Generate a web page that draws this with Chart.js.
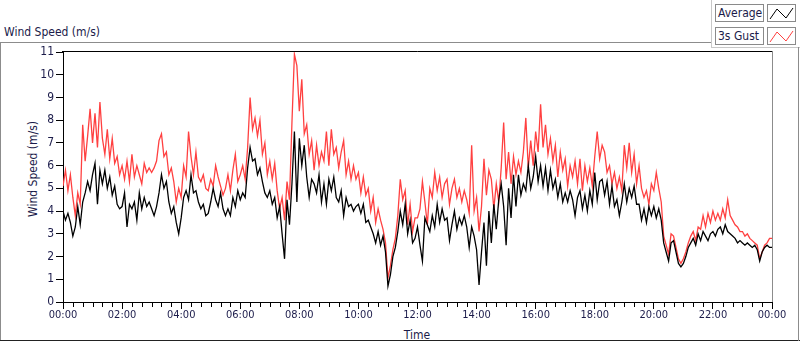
<!DOCTYPE html>
<html>
<head>
<meta charset="utf-8">
<script src="https://cdn.jsdelivr.net/npm/chart.js@4.4.1/dist/chart.umd.min.js"></script>
<style>
    html, body { margin: 0; padding: 0; background: #fff; }
    body {
        width: 800px; height: 342px; position: relative; overflow: hidden;
        font-family: "DejaVu Sans Condensed", "DejaVu Sans", sans-serif;
        color: #1b1b4a;
    }
    .line { position: absolute; }
    #title { position: absolute; left: 4px; top: 25px; font-size: 12px; }
    .lg-label {
        position: absolute; left: 715px; width: 45px; height: 16px;
        border: 1px solid #8a8a8a; background: #fff;
        font-size: 12px; line-height: 16px; padding-left: 2px; white-space: nowrap;
    }
    .lg-swatch {
        position: absolute; left: 767px; width: 27px; height: 16px;
        border: 1px solid #8a8a8a; background: #fff;
    }
    #ytitle {
        position: absolute; left: 33px; top: 169px; font-size: 12px;
        transform: translate(-50%, -50%) rotate(-90deg); white-space: nowrap;
    }
    #xtitle {
        position: absolute; left: 417px; top: 335px; font-size: 12px;
        transform: translate(-50%, -50%);
    }
    #chart { position: absolute; left: 0; top: 0; }
</style>
</head>
<body>
<!-- outer panel frame -->
<div class="line" style="left:0;top:42px;width:711px;height:1px;background:#8c8c8c"></div>
<div class="line" style="left:0;top:42px;width:1px;height:299px;background:#8c8c8c"></div>
<div class="line" style="left:0;top:340px;width:800px;height:1px;background:#222"></div>
<div class="line" style="left:711px;top:0;width:1px;height:48px;background:#c8c8c8"></div>
<div class="line" style="left:711px;top:47px;width:89px;height:1px;background:#c8c8c8"></div>
<div class="line" style="left:798px;top:47px;width:1px;height:294px;background:#8c8c8c"></div>

<div id="title">Wind Speed (m/s)</div>

<div class="lg-label" style="top:4px">Average</div>
<div class="lg-swatch" style="top:4px">
    <svg width="27" height="16"><polyline points="2,14 9,4 18,13 25,3" fill="none" stroke="#000" stroke-width="1"/></svg>
</div>
<div class="lg-label" style="top:27px">3s Gust</div>
<div class="lg-swatch" style="top:27px">
    <svg width="27" height="16"><polyline points="2,14 9,4 18,13 25,3" fill="none" stroke="#ff4040" stroke-width="1"/></svg>
</div>

<div id="ytitle">Wind Speed (m/s)</div>
<div id="xtitle">Time</div>

<canvas id="chart" width="800" height="342"></canvas>

<script>
// samples every 5 minutes, 00:00 .. 24:00 (one row per hour)
const sampleStepMin = 5;

const averageSpeed = [
    4.0, 3.6, 3.9, 3.5, 2.9, 3.3, 4.2, 3.4, 4.4, 4.8, 5.3, 4.9,
    5.6, 6.1, 4.3, 5.8, 5.2, 5.8, 5.0, 5.5, 4.7, 5.1, 4.3, 4.1,
    4.2, 4.8, 3.3, 4.3, 4.1, 4.4, 3.6, 4.8, 4.1, 4.6, 4.2, 4.4,
    4.1, 3.8, 4.2, 4.8, 5.6, 5.0, 5.3, 4.4, 3.9, 4.2, 3.5, 3.0,
    3.7, 4.6, 4.9, 4.5, 5.6, 4.8, 4.9, 4.4, 4.1, 4.3, 3.8, 3.9,
    4.4, 5.0, 4.5, 4.2, 4.8, 4.1, 3.8, 4.1, 3.8, 4.6, 4.2, 4.9,
    4.5, 4.8, 4.6, 5.9, 6.8, 6.2, 6.3, 5.6, 5.9, 5.3, 4.8, 4.6,
    4.9, 4.3, 4.6, 3.7, 4.2, 3.0, 1.9, 4.5, 3.4, 5.2, 7.5, 4.4,
    7.2, 6.0, 6.9, 5.5, 4.6, 5.4, 5.2, 4.8, 5.6, 4.4, 5.2, 4.3,
    5.4, 4.9, 5.5, 4.6, 4.4, 4.9, 3.8, 4.6, 4.2, 4.3, 4.0, 4.2,
    4.3, 3.9, 4.3, 3.5, 3.6, 3.3, 3.0, 2.6, 3.1, 2.5, 2.9, 2.2,
    0.7, 1.2, 2.0, 2.4, 3.1, 4.0, 3.4, 4.3, 3.0, 3.6, 2.6, 2.8,
    3.3, 2.5, 1.8, 3.7, 3.4, 3.1, 3.8, 3.3, 4.3, 3.5, 4.1, 3.6,
    3.7, 2.7, 3.4, 4.0, 3.2, 3.7, 3.4, 3.8, 3.3, 2.4, 3.3, 2.9,
    2.3, 0.75, 2.2, 3.5, 1.6, 4.0, 2.6, 4.3, 3.2, 4.5, 5.2, 4.2,
    2.5, 5.0, 3.7, 5.6, 4.2, 5.6, 4.7, 5.2, 4.9, 6.0, 5.0, 5.5,
    6.4, 5.3, 6.0, 5.1, 5.9, 4.9, 5.8, 5.0, 5.4, 4.6, 5.2, 4.4,
    4.8, 4.4, 4.9, 4.5, 3.8, 4.6, 4.9, 4.1, 4.7, 4.0, 4.9, 4.3,
    5.7, 4.5, 5.3, 5.4, 4.7, 5.3, 4.3, 5.1, 4.2, 4.5, 3.8, 4.4,
    5.2, 4.4, 5.0, 4.6, 5.1, 4.3, 4.3, 3.6, 4.1, 3.5, 4.2, 3.8,
    4.2, 3.7, 4.1, 3.6, 2.6, 2.2, 1.8, 2.6, 2.7, 2.2, 1.7, 1.55,
    1.7, 2.0, 2.4, 2.6, 2.8, 2.5, 3.0, 2.7, 3.1, 2.9, 2.7, 3.0,
    3.1, 2.9, 3.2, 3.3, 3.0, 3.4, 3.1, 3.0, 2.9, 2.8, 2.6, 2.7,
    2.6, 2.5, 2.6, 2.5, 2.4, 2.5, 2.3, 1.8, 2.2, 2.4, 2.5, 2.4,
    2.4
];

const gustSpeed = [
    5.1, 5.8, 4.9, 5.6, 4.6, 3.8, 4.8, 4.3, 7.8, 6.2, 7.3, 8.5,
    7.0, 8.3, 6.8, 8.8, 7.2, 6.5, 7.6, 6.3, 7.2, 6.1, 6.4, 5.6,
    6.0, 5.4, 6.2, 5.3, 6.5, 5.5, 6.0, 5.6, 5.2, 6.1, 5.7, 5.9,
    5.7, 5.9, 6.2, 7.1, 7.4, 6.4, 6.6, 5.6, 5.9, 5.3, 4.4, 5.0,
    4.6, 6.0, 5.5, 7.5, 6.4, 5.6, 6.6, 5.5, 5.3, 5.6, 5.0, 4.9,
    5.4, 5.1, 6.0, 5.5, 5.1, 4.7, 5.0, 5.6, 4.9, 5.8, 6.5, 5.3,
    5.6, 6.0, 5.4, 6.8, 9.0, 7.6, 8.1, 7.3, 8.0, 6.5, 7.0, 5.6,
    6.2, 5.4, 6.1, 4.9, 4.1, 4.6, 3.6, 5.3, 4.5, 7.9, 10.9, 10.4,
    8.4, 9.8, 7.4, 7.8, 6.5, 7.1, 5.8, 6.9, 6.0, 6.6, 6.2, 7.5,
    6.0, 7.6, 6.5, 6.8, 5.9, 6.6, 7.1, 5.6, 6.2, 5.4, 6.0, 5.4,
    5.7, 4.8, 5.5, 4.7, 5.0, 4.0, 4.6, 3.5, 4.1, 3.6, 3.2, 2.6,
    1.05, 1.6, 2.3, 2.8, 3.8, 5.4, 4.5, 4.9, 3.4, 4.3, 3.1, 3.7,
    3.7, 4.1, 5.3, 4.4, 3.4, 5.0, 4.6, 5.7, 4.9, 5.5, 4.6, 5.2,
    5.4, 4.3, 5.0, 5.4, 4.6, 5.0, 4.4, 4.9, 4.5, 3.9, 6.9, 4.0,
    4.6, 3.1, 4.2, 6.3, 4.7, 5.8, 5.4, 4.1, 5.2, 4.4, 5.9, 7.9,
    5.4, 6.6, 5.2, 6.4, 5.6, 6.2, 5.7, 6.6, 8.1, 5.9, 7.1, 6.0,
    7.5, 6.6, 8.7, 6.8, 7.8, 6.5, 7.2, 6.2, 6.9, 5.5, 6.6, 5.8,
    6.3, 5.1, 6.0, 5.5, 6.2, 5.2, 6.3, 4.9, 6.0, 5.3, 5.9, 5.1,
    6.4, 7.5, 6.3, 6.9, 6.6, 5.7, 6.0, 5.2, 5.7, 5.0, 5.5, 4.9,
    6.9, 5.9, 7.0, 5.7, 6.5, 5.2, 6.0, 5.0, 4.6, 4.9, 4.3, 5.2,
    4.9, 5.7, 5.0, 4.4, 2.9, 2.5, 2.1, 3.0, 2.9, 2.4, 1.9, 1.7,
    1.9, 2.2, 2.6, 2.9, 3.1, 2.7, 3.3, 3.2, 3.8, 3.3, 3.9, 3.5,
    4.0, 3.6, 3.9, 3.6, 4.1, 3.7, 4.5, 3.8, 3.6, 3.4, 3.3, 3.1,
    3.1, 2.9, 3.0, 2.8, 2.7, 2.6, 2.5, 1.9, 2.2, 2.5, 2.6, 2.8,
    2.8
];

const xTickLabels = ['00:00', '02:00', '04:00', '06:00', '08:00', '10:00', '12:00',
                     '14:00', '16:00', '18:00', '20:00', '22:00', '00:00'];
const yTickValues = [0, 1, 2, 3, 4, 5, 6, 7, 8, 9, 10, 11];

const toPoints = arr => arr.map((v, i) => ({ x: i * sampleStepMin, y: v }));

const inkColor = '#1b1b4a';
Chart.defaults.font.family = "'DejaVu Sans Condensed', 'DejaVu Sans', sans-serif";

// frame top/right of the plot plus the short minor ticks on the time axis
const frameAndTicks = {
    id: 'frameAndTicks',
    afterDraw(chart) {
        const { ctx, chartArea } = chart;
        const xs = chart.scales.x;
        ctx.save();
        ctx.lineWidth = 1;
        ctx.strokeStyle = '#000';
        ctx.beginPath();
        ctx.moveTo(chartArea.left - 1, chartArea.top - 0.5);
        ctx.lineTo(chartArea.right + 0.5, chartArea.top - 0.5);
        ctx.stroke();
        ctx.strokeStyle = '#8c8c8c';
        ctx.beginPath();
        ctx.moveTo(chartArea.right + 0.5, chartArea.top - 0.5);
        ctx.lineTo(chartArea.right + 0.5, chartArea.bottom);
        ctx.stroke();
        ctx.strokeStyle = '#000';
        ctx.beginPath();
        xs.ticks.forEach(t => {
            if (t.value % 120 !== 0) {
                const px = Math.round(xs.getPixelForValue(t.value)) + 0.5;
                ctx.moveTo(px, chartArea.bottom + 1);
                ctx.lineTo(px, chartArea.bottom + 5);
            }
        });
        ctx.stroke();
        ctx.restore();
    }
};

new Chart(document.getElementById('chart'), {
    type: 'line',
    data: {
        datasets: [{
            label: 'Average',
            data: toPoints(averageSpeed),
            borderColor: '#000000',
            borderWidth: 1.3,
            pointRadius: 0,
            tension: 0,
            fill: false
        }, {
            label: '3s Gust',
            data: toPoints(gustSpeed),
            borderColor: '#ff4040',
            borderWidth: 1.3,
            pointRadius: 0,
            tension: 0,
            fill: false
        }]
    },
    options: {
        responsive: false,
        animation: false,
        events: [],
        layout: { padding: { top: 52, right: 28, left: 0, bottom: 0 } },
        plugins: {
            legend: { display: false },
            tooltip: { enabled: false }
        },
        scales: {
            x: {
                type: 'linear',
                min: 0,
                max: 1440,
                afterFit: s => { s.height = 40; },
                afterBuildTicks: s => {
                    s.ticks = [];
                    for (let m = 0; m <= 1440; m += 20) s.ticks.push({ value: m });
                },
                ticks: {
                    autoSkip: false,
                    maxRotation: 0,
                    padding: 0,
                    color: inkColor,
                    font: { size: 11 },
                    callback: v => (v % 120 === 0 ? xTickLabels[v / 120] : '')
                },
                grid: {
                    drawOnChartArea: false,
                    drawTicks: true,
                    tickLength: 7,
                    tickColor: ctx => (ctx.tick && ctx.tick.value % 120 === 0 ? '#000' : 'rgba(0,0,0,0)')
                },
                border: { display: true, color: '#000' }
            },
            y: {
                min: 0,
                max: 11,
                afterFit: s => { s.width = 63; },
                afterBuildTicks: s => { s.ticks = yTickValues.map(v => ({ value: v })); },
                ticks: {
                    padding: 2,
                    color: inkColor,
                    font: { size: 12 }
                },
                grid: {
                    drawOnChartArea: false,
                    drawTicks: true,
                    tickLength: 7,
                    tickColor: '#000'
                },
                border: { display: true, color: '#000' }
            }
        }
    },
    plugins: [frameAndTicks]
});
</script>
</body>
</html>
